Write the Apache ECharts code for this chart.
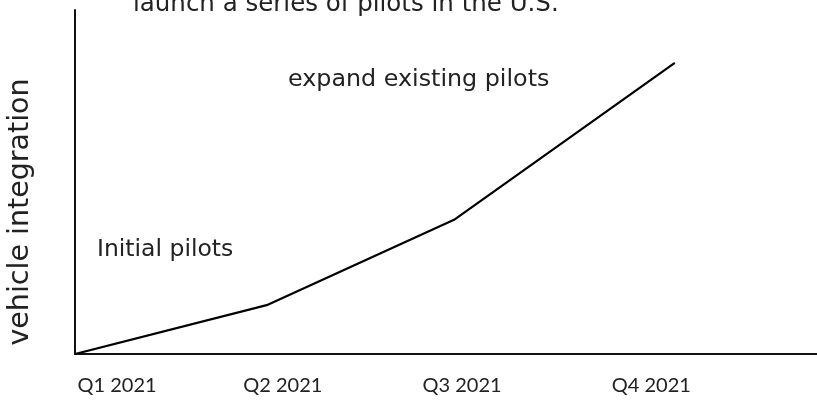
<!DOCTYPE html>
<html><head><meta charset="utf-8">
<script src="https://cdn.jsdelivr.net/npm/echarts@6/dist/echarts.min.js"></script>
<style>html,body{margin:0;padding:0;background:#fff}#c{width:817px;height:410px}</style>
</head><body><div id="c"></div>
<script>
// x in months from start of Q1 2021, y in arbitrary integration level
const pointX = [0, 3.1, 6.13, 9.7];
const pointY = [0, 14.2, 39.0, 84.6];
const tickLabels = ['Q1 2021', 'Q2 2021', 'Q3 2021', 'Q4 2021'];
const tickPos = [0.68, 3.36, 6.26, 9.32];
const annotations = ['launch a series of pilots in the U.S.', 'expand existing pilots', 'Initial pilots'];
const yName = 'vehicle integration';

const FONT = '"DejaVu Sans"';
const TICKFONT = 'Lato';
const chart = echarts.init(document.getElementById('c'));
chart.setOption({
  animation: false,
  grid: {left: 75, right: 0, top: 10, bottom: 56, outerBoundsMode: 'none', containLabel: false},
  xAxis: {
    type: 'value', min: 0, max: 12,
    splitLine: {show: false},
    axisLine: {lineStyle: {color: '#111', width: 2}},
    axisTick: {show: false},
    axisLabel: {
      customValues: tickPos, margin: 22, color: '#222', fontSize: 20, fontFamily: TICKFONT,
      formatter: (v) => tickLabels[tickPos.indexOf(v)] || ''
    }
  },
  yAxis: {
    type: 'value', min: 0, max: 100,
    name: yName, nameLocation: 'middle', nameGap: 40, nameRotate: 90,
    nameTextStyle: {color: '#222', fontSize: 28.5, fontFamily: FONT, padding: [0, 60, 0, 0]},
    splitLine: {show: false},
    axisLine: {show: true, lineStyle: {color: '#111', width: 2}},
    axisTick: {show: false},
    axisLabel: {show: false}
  },
  series: [{
    type: 'line', data: pointX.map((x, i) => [x, pointY[i]]),
    showSymbol: false, lineStyle: {color: '#000', width: 2.2}
  }],
  graphic: [
    {type: 'text', x: 133, y: 5, style: {text: annotations[0], fontSize: 24.5, fontFamily: FONT, fill: '#222', verticalAlign: 'middle'}},
    {type: 'text', x: 288, y: 80, style: {text: annotations[1], fontSize: 23.8, fontFamily: FONT, fill: '#222', verticalAlign: 'middle'}},
    {type: 'text', x: 97, y: 250, style: {text: annotations[2], fontSize: 23.5, fontFamily: FONT, fill: '#222', verticalAlign: 'middle'}}
  ]
});
</script></body></html>
